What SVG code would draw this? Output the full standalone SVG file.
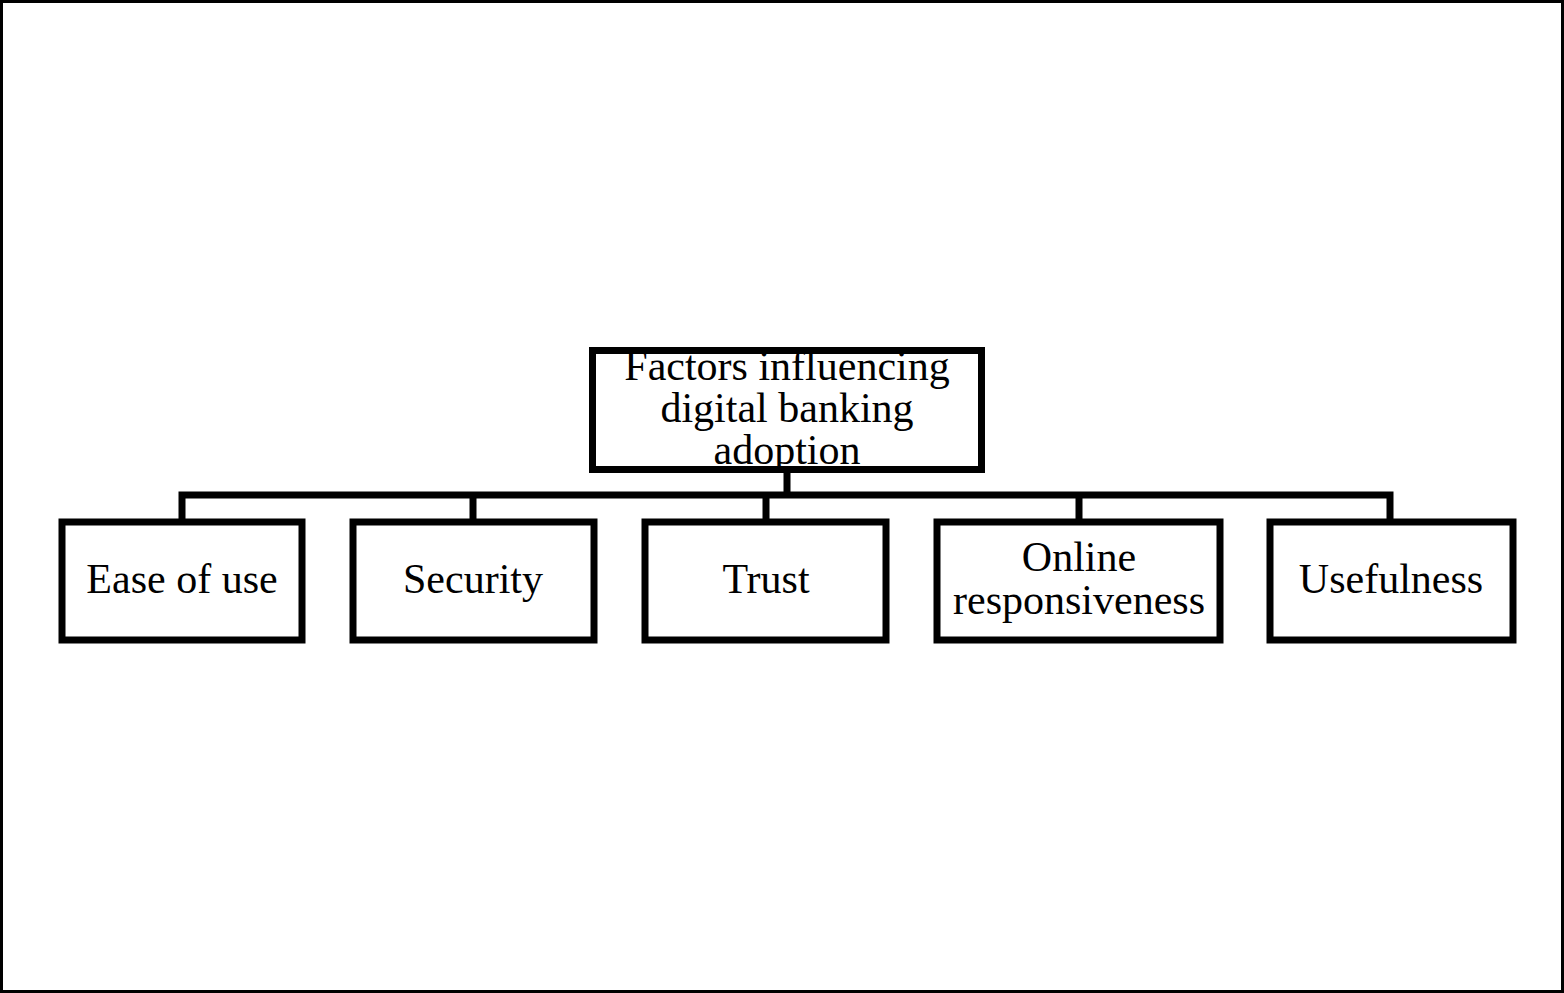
<svg xmlns="http://www.w3.org/2000/svg" width="1564" height="993" viewBox="0 0 1564 993">
<style>
.box{fill:#fff;stroke:#000;stroke-width:7}
.conn{fill:none;stroke:#000;stroke-width:7;stroke-linecap:butt}
text{font-family:"Liberation Serif","Times New Roman",serif;font-size:42px;fill:#000;text-anchor:middle}
</style>
<rect x="0" y="0" width="1564" height="993" fill="#fff"/>
<rect x="1.5" y="1.5" width="1561" height="990" fill="none" stroke="#000" stroke-width="3"/>
<g id="connectors">
<path class="conn" d="M787 469V495M182 495H1390M182 491.5V522M473 495V522M766 495V522M1079 495V522M1390 491.5V522"/>
</g>
<g id="root">
<rect class="box" x="592.5" y="350.5" width="389" height="119"/>
<text x="787" y="380">Factors influencing</text>
<text x="787" y="422">digital banking</text>
<text x="787" y="464">adoption</text>
</g>
<g id="ease">
<rect class="box" x="62" y="522" width="240" height="118"/>
<text x="182" y="593">Ease of use</text>
</g>
<g id="security">
<rect class="box" x="353" y="522" width="241" height="118"/>
<text x="473" y="593">Security</text>
</g>
<g id="trust">
<rect class="box" x="645" y="522" width="241" height="118"/>
<text x="766" y="593">Trust</text>
</g>
<g id="online">
<rect class="box" x="937" y="522" width="283" height="118"/>
<text x="1079" y="571">Online</text>
<text x="1079" y="614">responsiveness</text>
</g>
<g id="usefulness">
<rect class="box" x="1270" y="522" width="243" height="118"/>
<text x="1391" y="593">Usefulness</text>
</g>
</svg>
